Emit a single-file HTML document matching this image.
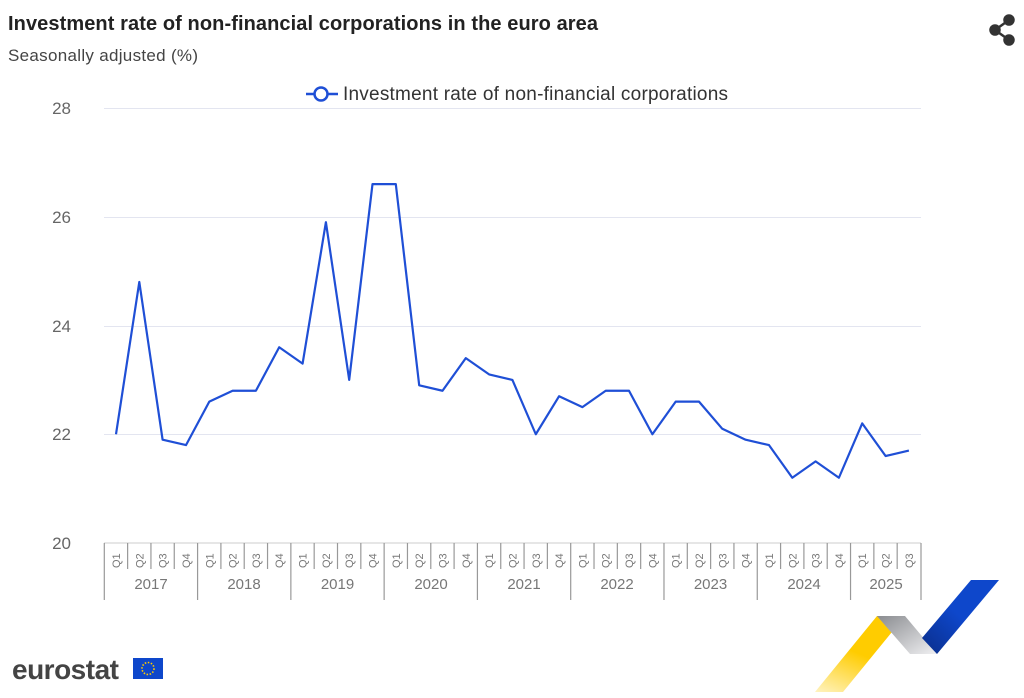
<!DOCTYPE html>
<html><head><meta charset="utf-8"><style>
body{margin:0;background:#fff;width:1024px;height:693px;overflow:hidden;font-family:"Liberation Sans",sans-serif}
</style></head><body>
<svg width="1024" height="693" xmlns="http://www.w3.org/2000/svg" font-family="Liberation Sans, sans-serif">
<text x="8" y="30" font-size="20" font-weight="bold" fill="#222" textLength="590">Investment rate of non-financial corporations in the euro area</text>
<text x="8" y="61" font-size="17" fill="#444" textLength="190">Seasonally adjusted (%)</text>
<g fill="#333" stroke="#333" stroke-width="2.5">
<circle cx="1009" cy="20" r="4.5"/><circle cx="1009" cy="40" r="4.5"/><circle cx="995" cy="30" r="4.5"/>
<line x1="1009" y1="20" x2="995" y2="30"/><line x1="1009" y1="40" x2="995" y2="30"/></g>
<line x1="306" y1="94" x2="338" y2="94" stroke="#1f4fd6" stroke-width="2.5"/>
<circle cx="321" cy="94" r="6.5" fill="#fff" stroke="#1f4fd6" stroke-width="2.5"/>
<text x="343" y="100" font-size="19" fill="#333" textLength="385">Investment rate of non-financial corporations</text>
<g stroke="#e3e5f0" stroke-width="1">
<line x1="104" y1="108.5" x2="921" y2="108.5"/><line x1="104" y1="217.5" x2="921" y2="217.5"/>
<line x1="104" y1="326.5" x2="921" y2="326.5"/><line x1="104" y1="434.5" x2="921" y2="434.5"/>
</g>
<g font-size="17" fill="#666" text-anchor="end">
<text x="71" y="114">28</text><text x="71" y="223">26</text><text x="71" y="332">24</text><text x="71" y="440">22</text><text x="71" y="549">20</text>
</g>
<line x1="104" y1="543" x2="921" y2="543" stroke="#ccc"/>
<g stroke="#999" stroke-width="1.2" id="ticks"></g>
<g id="lbl" font-size="11" fill="#777"></g>
<g font-size="15" fill="#777" text-anchor="middle">
<text x="151" y="589">2017</text><text x="244" y="589">2018</text><text x="337.5" y="589">2019</text><text x="431" y="589">2020</text><text x="524" y="589">2021</text><text x="617" y="589">2022</text><text x="710.5" y="589">2023</text><text x="804" y="589">2024</text><text x="886" y="589">2025</text>
</g>
<polyline fill="none" stroke="#1f4fd6" stroke-width="2.2" stroke-linejoin="round" points="116,434.25 139.3,282 162.6,439.7 186,445.1 209.3,401.6 232.6,390.75 255.9,390.75 279.2,347.25 302.6,363.6 325.9,222.2 349.2,379.9 372.5,184.1 395.8,184.1 419.2,385.3 442.5,390.75 465.8,358.1 489.1,374.4 512.4,379.9 535.8,434.25 559.1,396.2 582.4,407.1 605.7,390.75 629,390.75 652.4,434.25 675.7,401.6 699,401.6 722.3,428.8 745.6,439.7 769,445.1 792.3,477.75 815.6,461.4 838.9,477.75 862.2,423.4 885.6,456 908.9,450.6"/>
<text x="12" y="679" font-size="28" fill="#444" font-weight="bold" letter-spacing="-0.5">eurostat</text>
<rect x="133" y="658" width="30" height="21" fill="#0e47cb"/>
<circle cx="148" cy="668.5" r="6" fill="none" stroke="#ffcc00" stroke-width="1.6" stroke-dasharray="1.5 1.6"/>
<defs>
<linearGradient id="gy" x1="0" y1="1" x2="0.5" y2="0"><stop offset="0" stop-color="#fff3c0"/><stop offset="0.6" stop-color="#ffcc00"/></linearGradient>
<linearGradient id="gg" x1="0" y1="0" x2="1" y2="1"><stop offset="0" stop-color="#8a8c90"/><stop offset="1" stop-color="#f0f0f2"/></linearGradient>
<linearGradient id="gb" x1="0" y1="1" x2="1" y2="0"><stop offset="0" stop-color="#0a2e8a"/><stop offset="0.5" stop-color="#0e47cb"/></linearGradient>
</defs>
<polygon points="815,692 877,616 905,616 843,692" fill="url(#gy)"/>
<polygon points="877,616 905,616 937,654 910,654" fill="url(#gg)"/>
<polygon points="922,638 971,580 999,580 937,654" fill="url(#gb)"/>
</svg>
<script>
var t=document.getElementById('ticks'),l=document.getElementById('lbl'),ns='http://www.w3.org/2000/svg';
for(var i=0;i<=35;i++){var x=104.3+23.32*i;if(i==35)x=921;var yr=(i%4==0)||i==35;
var ln=document.createElementNS(ns,'line');ln.setAttribute('x1',x);ln.setAttribute('x2',x);ln.setAttribute('y1',543);ln.setAttribute('y2',yr?600:569);t.appendChild(ln);
if(i<35){var tx=document.createElementNS(ns,'text');var cx=116+23.32*i+4;tx.setAttribute('transform','translate('+cx+',568) rotate(-90)');tx.textContent='Q'+(i%4+1);l.appendChild(tx);}}
</script>
</body></html>
